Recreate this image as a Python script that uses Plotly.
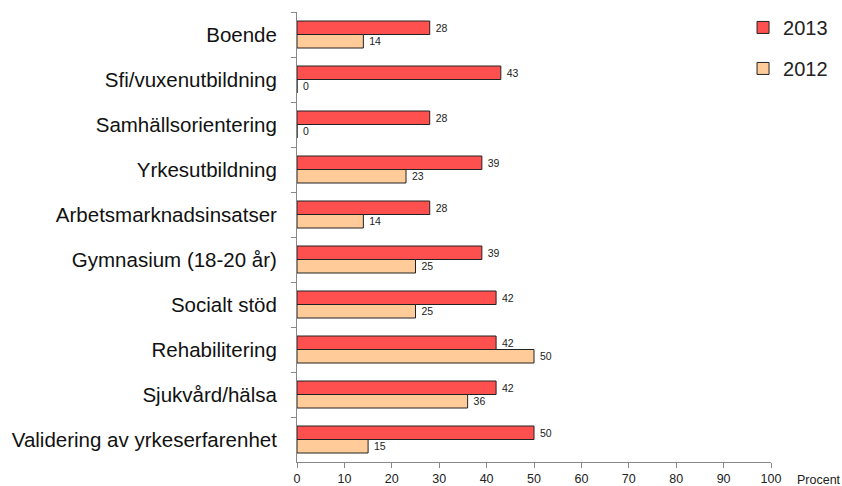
import plotly.graph_objects as go

categories = ["Boende", "Sfi/vuxenutbildning", "Samhällsorientering", "Yrkesutbildning",
              "Arbetsmarknadsinsatser", "Gymnasium (18-20 år)", "Socialt stöd",
              "Rehabilitering", "Sjukvård/hälsa", "Validering av yrkeserfarenhet"]
values_2013 = [28, 43, 28, 39, 28, 39, 42, 42, 42, 50]
values_2012 = [14, 0, 0, 23, 14, 25, 25, 50, 36, 15]
x_ticks = [0, 10, 20, 30, 40, 50, 60, 70, 80, 90, 100]

fig = go.Figure()
fig.add_trace(go.Bar(
    y=categories, x=values_2013, orientation="h", name="2013",
    marker=dict(color="#FF5050", line=dict(color="#222222", width=1)),
    text=["\u00a0" + str(v) for v in values_2013], textposition="outside",
    textfont=dict(size=10.5, color="#222222", family="Arial"),
    cliponaxis=False, legendgroup="a",
))
fig.add_trace(go.Bar(
    y=categories, x=values_2012, orientation="h", name="2012",
    marker=dict(color="#FFCC99", line=dict(color="#222222", width=1)),
    text=["\u00a0" + str(v) for v in values_2012], textposition="outside",
    textfont=dict(size=10.5, color="#222222", family="Arial"),
    cliponaxis=False, legendgroup="b",
))

fig.update_layout(
    width=842, height=486,
    margin=dict(l=297, r=71, t=12, b=24, autoexpand=False),
    paper_bgcolor="white", plot_bgcolor="white",
    barmode="group", bargap=0.4, bargroupgap=0,
    font=dict(family="Arial", color="#222222"),
    legend=dict(x=0.941, y=1.009, xanchor="left", yanchor="top",
                font=dict(size=20, color="#222222"),
                traceorder="grouped", tracegroupgap=12,
                itemwidth=30,
                bgcolor="rgba(0,0,0,0)"),
    xaxis=dict(range=[0, 100], tickvals=x_ticks, showgrid=False, zeroline=False,
               showline=True, linecolor="#888888", linewidth=1,
               ticks="outside", ticklen=5, tickcolor="#888888",
               tickfont=dict(size=12.5, color="#222222")),
    yaxis=dict(autorange="reversed", showgrid=False, showline=True,
               linecolor="#888888", linewidth=1, ticks="outside", ticklen=5,
               tickcolor="#888888", tickson="boundaries",
               tickfont=dict(size=20.5, color="#111111"), ticklabelstandoff=15),
    annotations=[dict(text="Procent", xref="paper", yref="paper", x=1, y=0,
                      xshift=24, yshift=-9, xanchor="left", yanchor="top",
                      showarrow=False, font=dict(size=12.5, color="#222222"))],
)

fig.write_html("out.html", config={"displayModeBar": False},
               post_script="document.body.style.margin='0';document.body.style.padding='0';")
